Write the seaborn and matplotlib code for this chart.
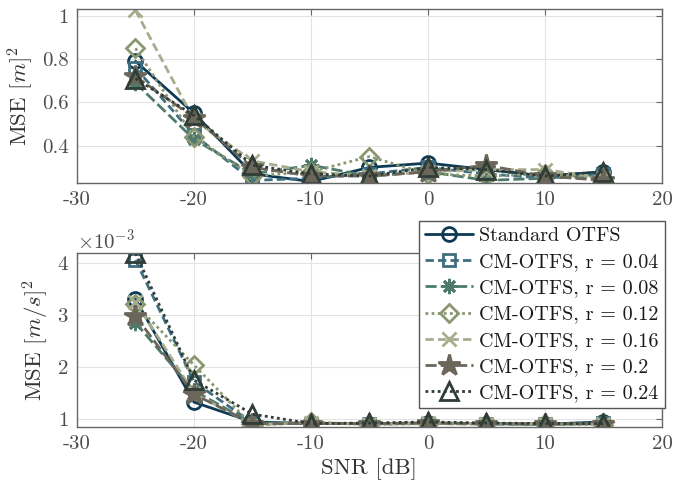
import pandas as pd
import matplotlib
matplotlib.use('Agg')
import matplotlib.pyplot as plt
import seaborn as sns
from matplotlib.ticker import FuncFormatter, ScalarFormatter

# SNR axis
snr = [-25, -20, -15, -10, -5, 0, 5, 10, 15]

series_names = ['Standard OTFS', 'CM-OTFS, r = 0.04', 'CM-OTFS, r = 0.08',
                'CM-OTFS, r = 0.12', 'CM-OTFS, r = 0.16', 'CM-OTFS, r = 0.2',
                'CM-OTFS, r = 0.24']

# position MSE [m]^2 (top panel)
pos_std = [0.79, 0.55, 0.27, 0.235, 0.30, 0.32, 0.29, 0.26, 0.28]
pos_r04 = [0.76, 0.45, 0.24, 0.25, 0.27, 0.30, 0.27, 0.25, 0.27]
pos_r08 = [0.69, 0.43, 0.27, 0.31, 0.26, 0.28, 0.24, 0.25, 0.26]
pos_r12 = [0.85, 0.44, 0.26, 0.28, 0.35, 0.27, 0.26, 0.27, 0.25]
pos_r16 = [1.025, 0.52, 0.33, 0.28, 0.26, 0.28, 0.29, 0.29, 0.25]
pos_r20 = [0.72, 0.53, 0.30, 0.26, 0.26, 0.28, 0.31, 0.26, 0.24]
pos_r24 = [0.71, 0.54, 0.31, 0.27, 0.26, 0.30, 0.29, 0.26, 0.28]

# velocity MSE [m/s]^2 (bottom panel)
vel_std = [3.30e-3, 1.33e-3, 0.95e-3, 0.92e-3, 0.92e-3, 0.93e-3, 0.92e-3, 0.91e-3, 0.95e-3]
vel_r04 = [4.05e-3, 1.72e-3, 0.93e-3, 0.92e-3, 0.92e-3, 0.92e-3, 0.91e-3, 0.91e-3, 0.93e-3]
vel_r08 = [2.85e-3, 1.55e-3, 0.92e-3, 0.93e-3, 0.91e-3, 0.92e-3, 0.92e-3, 0.90e-3, 0.92e-3]
vel_r12 = [3.20e-3, 2.04e-3, 0.88e-3, 0.95e-3, 0.90e-3, 0.92e-3, 0.91e-3, 0.92e-3, 0.90e-3]
vel_r16 = [3.25e-3, 1.50e-3, 0.90e-3, 0.93e-3, 0.92e-3, 0.93e-3, 0.92e-3, 0.91e-3, 0.91e-3]
vel_r20 = [2.98e-3, 1.48e-3, 0.92e-3, 0.92e-3, 0.92e-3, 0.93e-3, 0.92e-3, 0.91e-3, 0.92e-3]
vel_r24 = [4.18e-3, 1.75e-3, 1.10e-3, 0.92e-3, 0.93e-3, 0.95e-3, 0.93e-3, 0.92e-3, 0.92e-3]

pos_all = [pos_std, pos_r04, pos_r08, pos_r12, pos_r16, pos_r20, pos_r24]
vel_all = [vel_std, vel_r04, vel_r08, vel_r12, vel_r16, vel_r20, vel_r24]

colors = ['#0c3a55', '#3e6d7f', '#4d7a6b', '#8a9770', '#a7ac8d', '#6b6659', '#2f3d36']
markers = ['o', 's', (8, 2, 0), 'D', 'x', '*', '^']
styles = ['-', (0, (3, 1.5)), (0, (4, 1.5)), (0, (1, 1.2)), (0, (3, 1.5)), (0, (4, 1.5)), (0, (1, 1.2))]
msizes = [10, 8, 11, 9, 10, 16, 13]
mfcs = ['none', 'none', 'none', 'none', 'none', '#6b6659', 'none']

rows = []
for name, p, v in zip(series_names, pos_all, vel_all):
    for s, pv, vv in zip(snr, p, v):
        rows.append({'series': name, 'SNR': s, 'pos': pv, 'vel': vv})
df = pd.DataFrame(rows)

sns.set_theme(style='whitegrid')
plt.rcParams['font.family'] = ['cmr10', 'DejaVu Serif']
plt.rcParams['mathtext.fontset'] = 'cm'
plt.rcParams['axes.unicode_minus'] = False
plt.rcParams['axes.formatter.use_mathtext'] = True

fig = plt.figure(figsize=(6.73, 4.93), dpi=100)
ax1 = fig.add_axes([0.1144, 0.6288, 0.8692, 0.3523])
ax2 = fig.add_axes([0.1144, 0.1345, 0.8692, 0.353])

for ax, col in [(ax1, 'pos'), (ax2, 'vel')]:
    for i, name in enumerate(series_names):
        sub = df[df['series'] == name]
        sns.lineplot(data=sub, x='SNR', y=col, ax=ax, color=colors[i], marker=markers[i],
                     linestyle=styles[i], linewidth=2, markersize=msizes[i],
                     markerfacecolor=mfcs[i], markeredgecolor=colors[i], markeredgewidth=2,
                     label=name, legend=False)

tick_col = '#4d4d4d'
for ax in (ax1, ax2):
    ax.set_facecolor('white')
    ax.set_xlim(-30, 20)
    ax.set_xticks([-30, -20, -10, 0, 10, 20])
    ax.grid(True, color='#e3e3e3', linewidth=0.8)
    for sp in ax.spines.values():
        sp.set_visible(True)
        sp.set_color('#666666')
        sp.set_linewidth(1.0)
    ax.tick_params(direction='in', length=4, width=0.8, color='#666666', labelcolor=tick_col,
                   labelsize=15, top=True, right=True, pad=6)
    ax.set_xlabel('')

ax1.set_ylim(0.228, 1.03)
ax1.set_yticks([0.4, 0.6, 0.8, 1.0])
ax1.yaxis.set_major_formatter(FuncFormatter(lambda v, p: f'{v:g}'))
ax1.xaxis.set_major_formatter(FuncFormatter(lambda v, p: f'{v:g}'))
ax1.set_ylabel(r'MSE $[m]^2$', fontsize=16.5, color='#333333')

ax2.set_ylim(0.86e-3, 4.19e-3)
ax2.set_yticks([1e-3, 2e-3, 3e-3, 4e-3])
fmt = ScalarFormatter(useMathText=True)
fmt.set_powerlimits((0, 0))
ax2.yaxis.set_major_formatter(fmt)
ax2.yaxis.get_offset_text().set_fontsize(15)
ax2.yaxis.get_offset_text().set_color(tick_col)
ax2.xaxis.set_major_formatter(FuncFormatter(lambda v, p: f'{v:g}'))
ax2.set_ylabel(r'MSE $[m/s]^2$', fontsize=16.5, color='#333333')
ax2.set_xlabel('SNR [dB]', fontsize=16.5, color='#333333')

handles = ax1.get_lines()
leg = ax2.legend(handles, series_names, loc='upper right',
                 bbox_to_anchor=(665 / 673, 1 - 221 / 493), bbox_transform=fig.transFigure,
                 borderaxespad=0, fontsize=14.5, frameon=True, fancybox=False,
                 framealpha=1, edgecolor='#555555', labelspacing=0.4,
                 handlelength=2.4, handletextpad=0.3, borderpad=0.3)
leg.get_frame().set_linewidth(1.0)
for t in leg.get_texts():
    t.set_color('#1a1a1a')

fig.savefig('out.png', dpi=100)
